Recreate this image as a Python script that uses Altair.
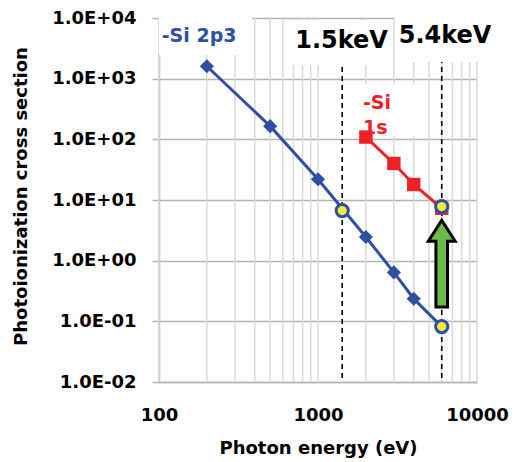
import math
import altair as alt
import pandas as pd

# ---------------- data ----------------
si2p3_energy = [200, 500, 1000, 2000, 3000, 4000, 6000]
si2p3_cross = [1600, 165, 22, 2.46, 0.64, 0.236, 0.082]

si1s_energy = [2000, 3000, 4000, 6000]
si1s_cross = [109, 40, 18, 7.3]

hl_energy = [1420, 6000, 6000]
hl_cross = [6.7, 7.8, 0.082]

excite_energy = [1420, 6000]
excite_low = [0.0116, 0.0116]
excite_high = [1675, 1880]

arrow_energy = [6000]
arrow_cross = [0.892]

x_tick_values = [100, 1000, 10000]
x_grid_values = [100, 200, 300, 400, 500, 600, 700, 800, 900,
                 1000, 2000, 3000, 4000, 5000, 6000, 7000, 8000, 9000, 10000]
y_tick_values = [0.01, 0.1, 1, 10, 100, 1000, 10000]
y_tick_labels = ["1.0E-02", "1.0E-01", "1.0E+00", "1.0E+01",
                 "1.0E+02", "1.0E+03", "1.0E+04"]

# label background boxes (data units)
box_x1 = [100, 620, 3048, 1480]
box_x2 = [385, 2918, 10450, 4853]
box_y1 = [19800, 9270, 19800, 809]
box_y2 = [2450, 1675, 1880, 112]

# annotation texts
big_text = ["1.5keV", "5.4keV"]
big_text_x = [1406, 6296]
big_text_y = [4170, 5046]

blue_label = ["-Si 2p3"]
blue_label_x = [104]
blue_label_y = [5046]

red_label = ["-Si", "1s"]
red_label_x = [1918, 1918]
red_label_y = [396, 153]

BLUE = "#2F4FA2"
RED = "#EE2226"
YELLOW = "#F2EA3A"
GREEN = "#6CBB45"
FONT = "DejaVu Sans"

# ---------------- scales / axes ----------------
xs = alt.Scale(type="log", domain=[100, 10000], nice=False)
ys = alt.Scale(type="log", domain=[0.01, 10000], nice=False)

label_expr = ""
for i in range(len(y_tick_values) - 1):
    mid = math.sqrt(y_tick_values[i] * y_tick_values[i + 1])
    label_expr += f"datum.value < {mid} ? '{y_tick_labels[i]}' : "
label_expr += f"'{y_tick_labels[-1]}'"

xaxis = alt.Axis(
    title="Photon energy (eV)", values=x_tick_values, format="d",
    grid=False, ticks=False, tickSize=0, labelPadding=24,
    labelFont=FONT, labelFontSize=18, labelFontWeight="bold", labelColor="black",
    labelFlush=False, labelOverlap=False,
    domainColor="#b3b3b3", domainWidth=1.5,
    titleFont=FONT, titleFontSize=18, titleFontWeight="bold", titleColor="black",
    titleY=57, titleBaseline="top",
)
yaxis = alt.Axis(
    title="Photoionization cross section", values=y_tick_values, labelExpr=label_expr,
    grid=True, gridColor="#b3b3b3", gridWidth=1.5,
    ticks=True, tickSize=7, tickColor="#b3b3b3", tickWidth=1.5, labelPadding=16,
    labelFont=FONT, labelFontSize=18, labelFontWeight="bold", labelColor="black",
    labelFlush=False, labelOverlap=False,
    domainColor="#b3b3b3", domainWidth=1.5,
    titleFont=FONT, titleFontSize=18, titleFontWeight="bold", titleColor="black",
    titleX=-138, titleY=178, titleAngle=270, titleAlign="center", titleBaseline="middle",
)


def X(f="energy"):
    return alt.X(f, type="quantitative", scale=xs, axis=xaxis)


def Y(f="cross"):
    return alt.Y(f, type="quantitative", scale=ys, axis=yaxis)


# ---------------- layers ----------------
grid_df = pd.DataFrame({"energy": x_grid_values})
vgrid = alt.Chart(grid_df).mark_rule(color="#d9d9d9", strokeWidth=1.5).encode(x=X())

box_df = pd.DataFrame({"energy": box_x1, "energy2": box_x2, "cross": box_y1, "cross2": box_y2})
boxes = alt.Chart(box_df).mark_rect(fill="white").encode(
    x=X(), x2="energy2", y=Y(), y2="cross2")

exc_df = pd.DataFrame({"energy": excite_energy, "cross": excite_low, "cross2": excite_high})
dashed = alt.Chart(exc_df).mark_rule(color="black", strokeWidth=1.6, strokeDash=[5, 4]).encode(
    x=X(), y=Y(), y2="cross2")

s2p_df = pd.DataFrame({"energy": si2p3_energy, "cross": si2p3_cross})
s2p_line = alt.Chart(s2p_df).mark_line(color=BLUE, strokeWidth=3).encode(x=X(), y=Y())
s2p_pts = alt.Chart(s2p_df).mark_point(shape="diamond", filled=True, size=200, color=BLUE,
                                       opacity=1).encode(x=X(), y=Y())

s1s_df = pd.DataFrame({"energy": si1s_energy, "cross": si1s_cross})
s1s_line = alt.Chart(s1s_df).mark_line(color=RED, strokeWidth=3).encode(x=X(), y=Y())
s1s_pts = alt.Chart(s1s_df).mark_point(shape="square", filled=True, size=180, color=RED,
                                       opacity=1).encode(x=X(), y=Y())

hl_df = pd.DataFrame({"energy": hl_energy, "cross": hl_cross})
hl = alt.Chart(hl_df).mark_point(shape="circle", filled=True, size=150, fill=YELLOW,
                                 stroke=BLUE, strokeWidth=3, opacity=1).encode(x=X(), y=Y())

arrow_path = "M -0.13 0.97 L -0.13 -0.5 L -0.3 -0.5 L 0 -0.97 L 0.3 -0.5 L 0.13 -0.5 L 0.13 0.97 Z"
arr_df = pd.DataFrame({"energy": arrow_energy, "cross": arrow_cross})
arrow = alt.Chart(arr_df).mark_point(shape=arrow_path, filled=True, size=8000, fill=GREEN,
                                     stroke="black", strokeWidth=3, opacity=1,
                                     strokeJoin="miter").encode(x=X(), y=Y())

big_df = pd.DataFrame({"energy": big_text_x, "cross": big_text_y, "t": big_text})
big = alt.Chart(big_df).mark_text(font=FONT, fontSize=24, fontWeight="bold", color="black",
                                  align="center", baseline="middle").encode(x=X(), y=Y(), text="t")

bl_df = pd.DataFrame({"energy": blue_label_x, "cross": blue_label_y, "t": blue_label})
bl = alt.Chart(bl_df).mark_text(font=FONT, fontSize=19, fontWeight="bold", color=BLUE,
                                align="left", baseline="middle").encode(x=X(), y=Y(), text="t")

rl_df = pd.DataFrame({"energy": red_label_x, "cross": red_label_y, "t": red_label})
rl = alt.Chart(rl_df).mark_text(font=FONT, fontSize=19, fontWeight="bold", color=RED,
                                align="left", baseline="middle").encode(x=X(), y=Y(), text="t")

chart = alt.layer(
    vgrid, boxes, dashed, s2p_line, s2p_pts, s1s_line, s1s_pts, hl, arrow, big, bl, rl
).properties(
    width=318, height=364,
    autosize=alt.AutoSizeParams(type="none"),
    padding={"left": 159, "top": 18, "right": 39, "bottom": 80},
    background="white",
).configure_view(stroke=None)

chart.save("out.html", embed_options={"renderer": "svg", "actions": False})
